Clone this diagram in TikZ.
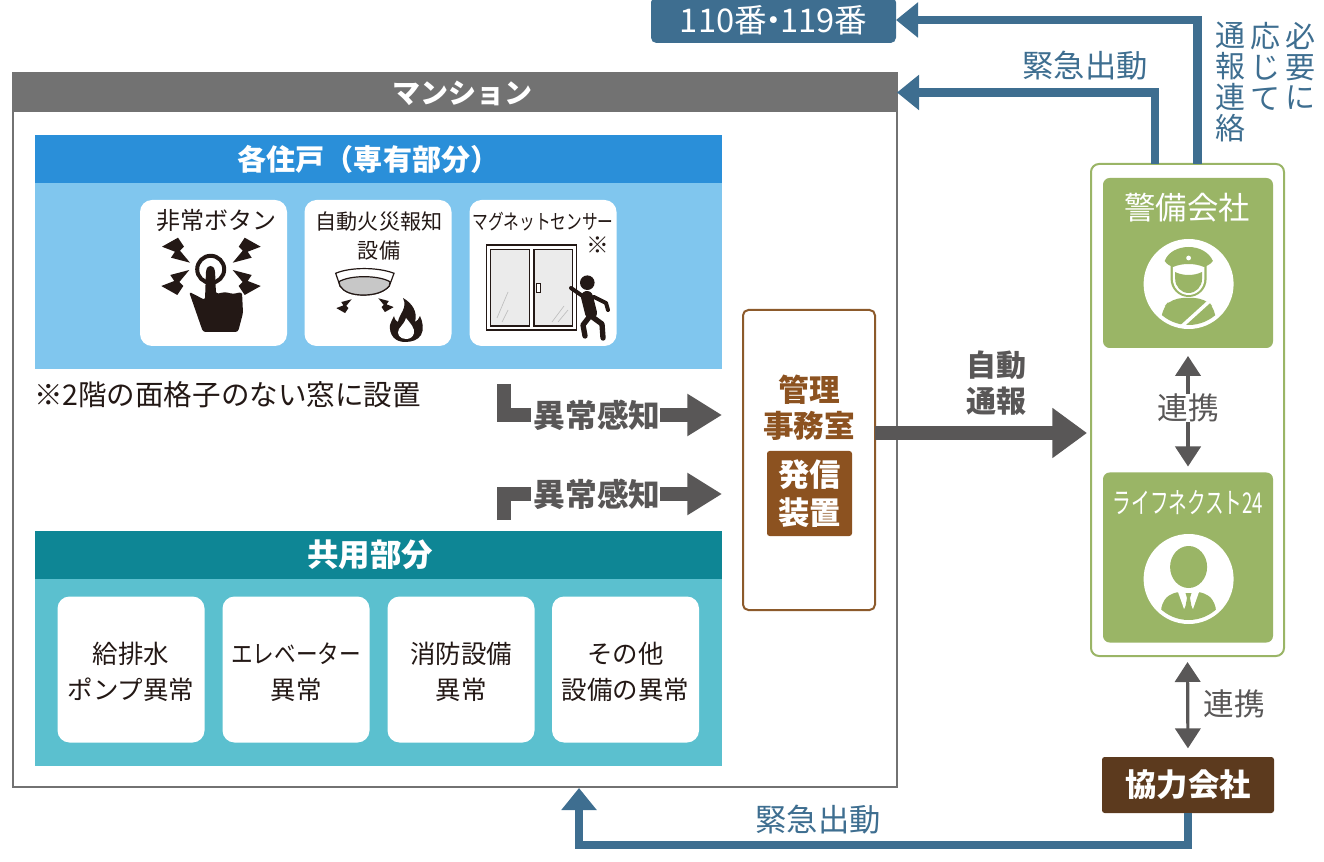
\documentclass[tikz,border=0pt]{standalone}
\usepackage{fontspec}
\usepackage{graphicx}
\setmainfont{Noto Sans CJK JP}
\newcommand{\semib}{\bfseries\selectfont}
\usetikzlibrary{arrows.meta,calc}
\definecolor{navy}{HTML}{3E6E90}
\definecolor{dk}{HTML}{595757}
\definecolor{tx}{HTML}{231815}
\definecolor{hdrgray}{HTML}{727272}
\definecolor{bluehd}{HTML}{2A8FD9}
\definecolor{bluebd}{HTML}{80C6EE}
\definecolor{tealhd}{HTML}{0E8695}
\definecolor{tealbd}{HTML}{5BC0CF}
\definecolor{brownln}{HTML}{8C5A2B}
\definecolor{brownbx}{HTML}{8C5220}
\definecolor{grn}{HTML}{9AB566}
\definecolor{coopbr}{HTML}{5C3A1E}
\newcommand{\boltshape}{(0,0) -- (-19,-5) -- (-15,-11) -- (-28,-16) -- (-12,-25) -- (-6,-16) -- (-10,-12) -- cycle}
\tikzset{
  sz/.style 2 args={minimum width=#1*0.75pt,minimum height=#2*0.75pt,inner sep=0pt,outer sep=0pt},
  card/.style={fill=white,rounded corners=9pt,sz={147}{146},align=center},
  lbl/.style={inner sep=0pt,outer sep=0pt,align=center},
  cardtext/.style={lbl,text=tx,font=\fontsize{19.1}{27}\selectfont},
  blueline/.style={draw=navy,line width=6.4pt,-{Triangle[length=16.5pt,width=25.5pt]}},
  darkline/.style={draw=dk,line width=10.5pt},
  darkarrow/.style={draw=dk,line width=10.5pt,-{Triangle[length=26pt,width=30pt]}},
  linkarrow/.style={draw=dk,line width=2.4pt,-{Triangle[length=15pt,width=19pt]}},
  linkboth/.style={draw=dk,line width=2.4pt,{Triangle[length=15pt,width=19pt]}-{Triangle[length=15pt,width=19pt]}},
  vert/.style={lbl,text=navy,font=\fontsize{22.5}{23.2}\selectfont,anchor=north},
}
\begin{document}
\begin{tikzpicture}[x=0.75pt,y=-0.75pt]
\useasboundingbox (0,0) rectangle (1324,862);
% building
\node[draw=hdrgray,line width=1.5pt,fill=white,sz={884}{714}] (bldg) at (455,430) {};
\node[fill=hdrgray,sz={884}{39}] (hdr) at (455,92.5) {};
\node[lbl,text=white,font=\fontsize{21}{26}\semib] (hdrt) at (462,93) {マンション};
% private area
\node[fill=bluebd,sz={687}{186}] (privbody) at (378.5,276) {};
\node[fill=bluehd,sz={687}{48}] (privhd) at (378.5,159) {};
\node[lbl,text=white,font=\fontsize{21.8}{26}\semib] (privt) at (368.5,159) {各住戸（専有部分）};
\node[card] (c1) at (213.5,273) {};
\node[card] (c2) at (378,273) {};
\node[card] (c3) at (543,273) {};
\node[lbl,text=tx,font=\fontsize{18}{22}\selectfont] (t1) at (216,221) {非常ボタン};
\node[lbl,text=tx,font=\fontsize{15.8}{21.5}\selectfont] (t2) at (379,236) {自動火災報知\\設備};
\node[lbl,text=tx,font=\fontsize{15.5}{20}\selectfont] (t3) at (543,221.5) {\scalebox{.76}[1]{マグネットセンサー}};
\node[lbl,text=tx,font=\fontsize{17}{20}\selectfont] (t3b) at (598,245) {※};
% hand icon
\draw[tx,line width=3pt] (210.7,269.3) circle (13.5);
\fill[tx,rounded corners=2pt] (189,291.7) -- (205,300) -- (206,270) -- (208,266) -- (213,266) -- (215,270) -- (216,294) -- (225,292) -- (233,294) -- (242,292) -- (243,313) -- (238,332) -- (203,332) -- cycle;
\begin{scope}[shift={(190,262.7)}]\fill[tx] \boltshape;\end{scope}
\begin{scope}[shift={(232.7,262.7)},xscale=-1]\fill[tx] \boltshape;\end{scope}
\begin{scope}[shift={(189.3,270)},yscale=-1]\fill[tx] \boltshape;\end{scope}
\begin{scope}[shift={(232.7,270)},xscale=-1,yscale=-1]\fill[tx] \boltshape;\end{scope}
% detector icon
\filldraw[fill=white,draw=tx,line width=.9pt] (335.7,273.3) .. controls (350,267) and (378,267) .. (394,273.3) -- (389.3,286) .. controls (384,292) and (375,295) .. (363.3,295) .. controls (352,295) and (344,292) .. (340,286) -- cycle;
\filldraw[fill=black!22,draw=tx,line width=.9pt] (339,281.7) .. controls (350,275) and (378,275) .. (390,281.7) -- (389.3,286) .. controls (384,292) and (375,295) .. (363.3,295) .. controls (352,295) and (344,292) .. (340,286) -- cycle;
\begin{scope}[shift={(351.7,299.3)},scale=.55,yscale=-1]\fill[tx] \boltshape;\end{scope}
\begin{scope}[shift={(378.3,298.3)},scale=.55,xscale=-1,yscale=-1]\fill[tx] \boltshape;\end{scope}
\fill[tx] (405,342) .. controls (395,342) and (389,335) .. (390,325) .. controls (391,322) and (392,320) .. (394,316) .. controls (395,320) and (396,321) .. (398,322) .. controls (399,314) and (408,308) .. (403,298) .. controls (412,303) and (418,312) .. (415,322) .. controls (417,321) and (419,319) .. (420,316) .. controls (423,322) and (424,330) .. (421,335) .. controls (418,340) and (412,342) .. (405,342) -- cycle;
\fill[white] (406,339) .. controls (400,339) and (396,334) .. (399,329) .. controls (402,325) and (405,322) .. (406,318) .. controls (410,323) and (415,328) .. (414,333) .. controls (413,337) and (410,339) .. (406,339) -- cycle;
% window icon
\draw[tx,line width=1pt,fill=white] (486.7,245) rectangle (576.7,330);
\draw[tx,line width=.8pt,fill=black!8] (490.7,249.3) rectangle (529.3,326);
\draw[tx,line width=.8pt,fill=black!8] (534,249.3) rectangle (572.7,326);
\draw[black!25,line width=.5pt] (497,318) -- (508,292) (502,322) -- (508,310) (552,322) -- (564,306) (558,322) -- (568,310);
\draw[tx,line width=.7pt,fill=white] (536.5,283) rectangle (540,292);
\fill[tx] (587.3,282.7) circle (7.3);
\draw[tx,line width=3pt,line cap=round,line join=round] (571,288) -- (584,297) (594,297) -- (606,303) -- (608,310);
\draw[tx,line width=9pt,line cap=round] (587,297) -- (591,313);
\draw[tx,line width=4pt,line cap=round,line join=round] (590,316) -- (583,325) -- (585,336) (591,316) -- (602,324) -- (603,338);
% note
\node[lbl,text=tx,font=\fontsize{21.4}{24}\selectfont,anchor=west] (note) at (34,395) {※2階の面格子のない窓に設置};
% common area
\node[fill=tealbd,sz={687}{187}] (combody) at (378.5,672.5) {};
\node[fill=tealhd,sz={687}{48}] (comhd) at (378.5,555) {};
\node[lbl,text=white,font=\fontsize{23.6}{26}\semib] (comt) at (370,555) {共用部分};
\node[card] (d1) at (131,669.5) {};
\node[card] (d2) at (296,669.5) {};
\node[card] (d3) at (461,669.5) {};
\node[card] (d4) at (625.5,669.5) {};
\node[cardtext] (e1) at (131,672) {給排水\\ポンプ異常};
\node[cardtext] (e2) at (296,672) {\scalebox{.85}[1]{エレベーター}\\異常};
\node[cardtext] (e3) at (461,672) {消防設備\\異常};
\node[cardtext] (e4) at (625.5,672) {その他\\設備の異常};
% alarm labels
\node[lbl,text=dk,font=\fontsize{23.8}{28}\semib] (a1) at (597,415) {異常感知};
\node[lbl,text=dk,font=\fontsize{23.8}{28}\semib] (a2) at (597,494) {異常感知};
\coordinate (a1s) at (504,384);
\coordinate (a2s) at (504,520);
\coordinate (a1t) at (722,415);
\coordinate (a2t) at (722,494);
\draw[darkline,line join=miter] (a1s) |- ($(a1.west)+(-3,0)$);
\draw[darkline,line join=miter] (a2s) |- ($(a2.west)+(-3,0)$);
\draw[darkarrow] (a1.east) -- (a1t);
\draw[darkarrow] (a2.east) -- (a2t);
% office
\node[draw=brownln,line width=1.5pt,fill=white,rounded corners=4pt,sz={132}{300}] (office) at (809,460) {};
\node[lbl,text=brownbx,font=\fontsize{23}{27}\semib] (offt) at (809,408) {管理\\事務室};
\node[fill=brownbx,rounded corners=2pt,sz={85}{85},align=center,text=white,font=\fontsize{23.5}{28}\semib] (sender) at (809.5,493.5) {発信\\装置};
% security group
\node[draw=grn,line width=1.5pt,fill=white,rounded corners=6pt,sz={193}{492}] (sec) at (1187.5,410) {};
\node[fill=grn,rounded corners=5pt,sz={170}{170}] (guard) at (1188,263) {};
\node[fill=grn,rounded corners=5pt,sz={170}{170}] (life) at (1188,557.5) {};
\node[lbl,text=white,font=\fontsize{23.5}{26}\selectfont] (gt) at (1187,208) {警備会社};
\node[lbl,text=white,font=\fontsize{21.5}{26}\selectfont] (lt) at (1188,503) {\scalebox{.65}[1]{ライフネクスト24}};
% guard icon
\fill[white] (1188.6,284) circle (45);
\begin{scope}
\clip (1188.6,284) circle (41);
\fill[grn,rounded corners=8pt] (1161,340) -- (1161,310) -- (1172,298) -- (1205,298) -- (1216,310) -- (1216,340) -- cycle;
\end{scope}
\draw[white,line width=2.6pt] (1181,327) -- (1213,298);
\fill[grn] (1170.6,262) -- (1206.6,262) -- (1206.6,279) arc[start angle=0,end angle=180,x radius=18,y radius=18] -- cycle;
\fill[white] (1172.9,262) -- (1204.3,262) -- (1204.3,279) arc[start angle=0,end angle=180,x radius=15.7,y radius=16] -- cycle;
\fill[grn] (1175,272) .. controls (1183,276) and (1194,276) .. (1202,272) -- (1202,279) arc[start angle=0,end angle=180,x radius=13.4,y radius=14] -- cycle;
\fill[grn] (1164.7,261) .. controls (1168,252) and (1178,247) .. (1188.6,247) .. controls (1199,247) and (1209,252) .. (1212.9,261) .. controls (1210,265) and (1206,266) .. (1204,267) .. controls (1195,263) and (1182,263) .. (1173,267) .. controls (1171,266) and (1167,265) .. (1164.7,261) -- cycle;
\fill[white] (1188.6,258) circle (2.4);
% person icon
\fill[white] (1188.6,579) circle (45);
\begin{scope}
\clip (1188.6,579) circle (41);
\fill[grn,rounded corners=6pt] (1161,625) -- (1161,603) -- (1172,592) -- (1205,592) -- (1216,603) -- (1216,625) -- cycle;
\fill[white] (1178,592) -- (1184,609) -- (1188.6,601) -- (1193,609) -- (1199,592) -- cycle;
\fill[grn] (1185.5,593) -- (1191.5,593) -- (1190,598) -- (1192,609) -- (1188.6,614) -- (1185,609) -- (1187,598) -- cycle;
\end{scope}
\fill[grn] (1188.6,567) ellipse [x radius=18.5,y radius=21];
% coop
\node[fill=coopbr,rounded corners=2pt,sz={172}{56},text=white,font=\fontsize{23.5}{27}\semib] (coop) at (1188,785) {協力会社};
% link labels
\node[lbl,text=dk,fill=white,font=\fontsize{23}{26}\selectfont] (r1) at (1188,408) {連携};
\node[lbl,text=dk,font=\fontsize{23}{26}\selectfont] (r2) at (1234,704) {連携};
\draw[linkarrow,shorten >=6pt] (r1.north) -- (guard.south);
\draw[linkarrow,shorten >=4.5pt] (r1.south) -- (life.north);
\draw[linkboth,shorten <=4.5pt,shorten >=6.5pt] (sec.south) -- (coop.north);
% auto report
\node[lbl,text=dk,font=\fontsize{22.5}{27}\semib] (auto) at (996,383) {自動\\通報};
\coordinate (autos) at ($(office.east)+(0,-27)$);
\coordinate (autot) at (1087,433);
\draw[draw=dk,line width=10.5pt,-{Triangle[length=26pt,width=36pt]}] (autos) -- (autot);
% phone and dispatch
\node[fill=navy,rounded corners=4pt,sz={245}{46},text=white,font=\fontsize{24.5}{26}\selectfont] (tel) at (773.5,20) {110番\kern-.3em ・\kern-.3em 119番};
\coordinate (sec1) at ($(sec.north)+(10,0)$);
\coordinate (sec2) at ($(sec.north)+(-32.5,0)$);
\draw[blueline,line join=miter] (sec1) |- (tel.east);
\draw[blueline,line join=miter] (sec2) |- (hdr.east);
\node[lbl,text=navy,font=\fontsize{23.5}{26}\selectfont] (em1) at (1085,66) {緊急出動};
\node[vert] (v1) at (1230,22) {通\\報\\連\\絡};
\node[vert] (v2) at (1265,22) {応\\じ\\て};
\node[vert] (v3) at (1300,22) {必\\要\\に};
\coordinate (bl) at (579,845);
\coordinate (bb) at ($(bldg.south)+(124,1)$);
\draw[blueline,line join=miter] (coop.south) |- (bl) -- (bb);
\node[lbl,text=navy,font=\fontsize{23.5}{26}\selectfont] (em2) at (818,820) {緊急出動};
\end{tikzpicture}
\end{document}
